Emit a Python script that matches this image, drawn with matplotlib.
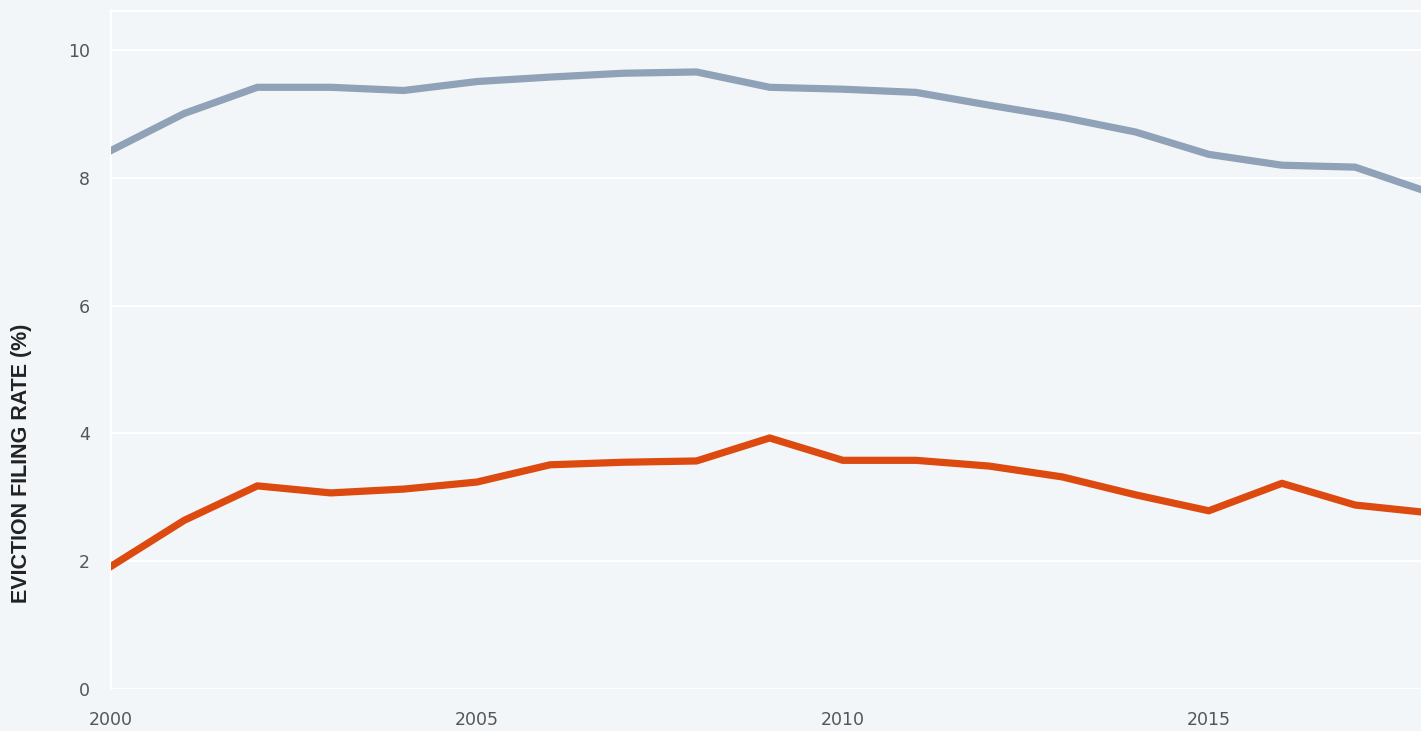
import matplotlib
matplotlib.use("Agg")
import matplotlib.pyplot as plt

years = list(range(2000, 2019))
series_gray = [8.43, 9.01, 9.42, 9.42, 9.37, 9.51, 9.58, 9.64, 9.66, 9.42,
               9.39, 9.34, 9.14, 8.95, 8.72, 8.37, 8.20, 8.17, 7.78]
series_red = [1.92, 2.64, 3.18, 3.07, 3.13, 3.24, 3.51, 3.55, 3.57, 3.93,
              3.58, 3.58, 3.49, 3.32, 3.04, 2.79, 3.22, 2.88, 2.76]
yticks = [0, 2, 4, 6, 8, 10]
xticks = [2000, 2005, 2010, 2015]

bg = "#f3f6f9"
fig = plt.figure(figsize=(14.21, 7.31), dpi=100, facecolor=bg)
ax = fig.add_axes([111/1421, 42/731, 1 - 111/1421, (689-10)/731])
ax.set_facecolor(bg)

ax.plot(years, series_gray, color="#8fa2b7", lw=5.2, solid_joinstyle="round", zorder=3)
ax.plot(years, series_red, color="#dd4a10", lw=5.2, solid_joinstyle="round", zorder=3)

ax.set_xlim(2000, 2017.9)
ax.set_ylim(0, 10.63)
ax.set_yticks(yticks)
ax.set_xticks(xticks)
ax.grid(axis="y", color="white", lw=1.5, zorder=1)
for s in ["top", "right", "bottom"]:
    ax.spines[s].set_visible(False)
ax.spines["left"].set_color("white")
ax.spines["left"].set_linewidth(1.5)
ax.axhline(10.63, color="white", lw=2, zorder=1)

ax.tick_params(axis="both", length=0, labelsize=12.5, labelcolor="#555555")
ax.tick_params(axis="y", pad=15)
ax.tick_params(axis="x", pad=16)
for lab in ax.get_xticklabels() + ax.get_yticklabels():
    lab.set_fontfamily("DejaVu Sans")

fig.text(22/1421, 1 - 463/731, "EVICTION FILING RATE (%)", rotation=90,
         ha="center", va="center", fontsize=15.5, fontweight="bold",
         family="Liberation Sans", color="#222222")

fig.savefig("out.png", dpi=100, facecolor=bg)
